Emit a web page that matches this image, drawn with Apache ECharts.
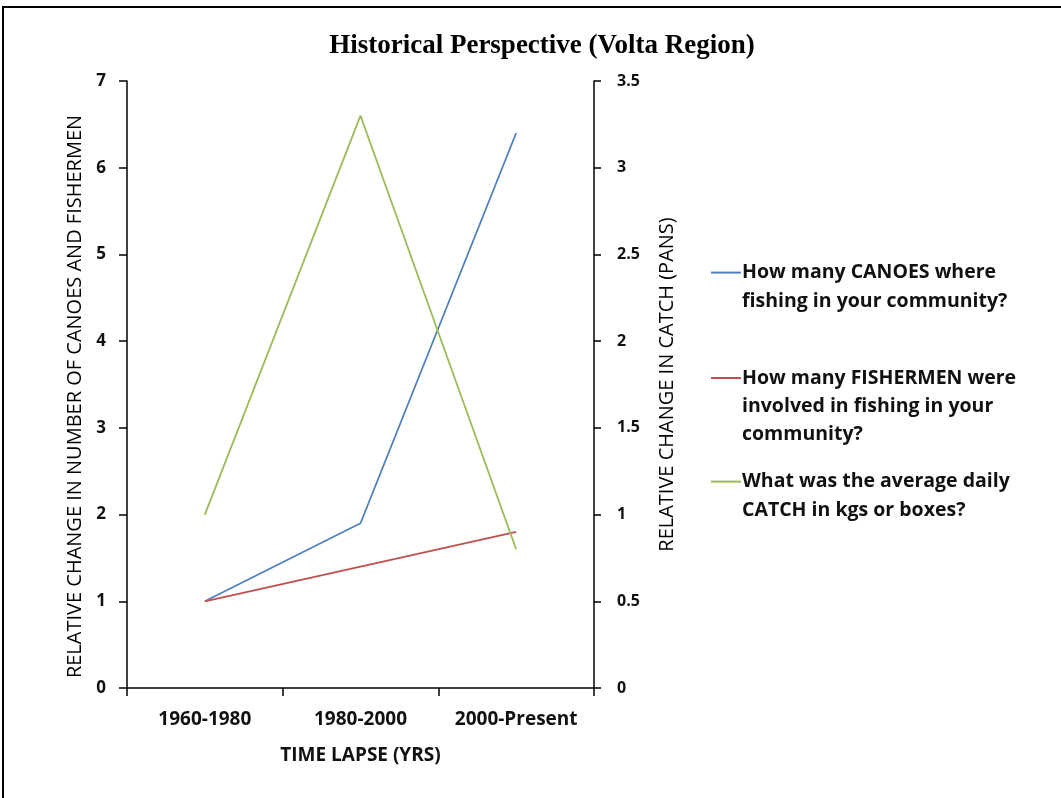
<!DOCTYPE html>
<html>
<head>
<meta charset="utf-8">
<script src="https://cdn.jsdelivr.net/npm/echarts@6/dist/echarts.min.js"></script>
<style>
html, body { margin: 0; padding: 0; background: #fff; }
#chart { width: 1061px; height: 798px; }
</style>
</head>
<body>
<div id="chart"></div>
<script>
// data
var periods = ['1960-1980', '1980-2000', '2000-Present'];
var canoes = [1, 1.9, 6.4];
var fishermen = [1, 1.4, 1.8];
var catchPans = [1, 3.3, 0.8];   // right axis
var leftTicks = [0, 7, 1];        // min, max, step
var rightTicks = [0, 3.5, 0.5];

var names = [
  'How many CANOES where fishing in your community?',
  'How many FISHERMEN were involved in fishing in your community?',
  'What was the average daily CATCH in kgs or boxes?'
];
// wrapped the way the legend shows them; leading blank lines keep the line icon on the first row
var legendText = {};
legendText[names[0]] = '\nHow many CANOES where\nfishing in your community?';
legendText[names[1]] = '\n\nHow many FISHERMEN were\ninvolved in fishing in your\ncommunity?';
legendText[names[2]] = '\nWhat was the average daily\nCATCH in kgs or boxes?';

var font = 'Open Sans';
var myChart = echarts.init(document.getElementById('chart'));

function legendFor(name, top) {
  return {
    data: [name],
    left: 710,
    top: top,
    padding: 0,
    orient: 'vertical',
    itemWidth: 30,
    itemHeight: 10,
    itemGap: 0,
    itemStyle: { opacity: 0 },
    formatter: function (n) { return legendText[n]; },
    textStyle: { fontFamily: font, fontSize: 19.5, fontWeight: 'bold', color: '#111', lineHeight: 28.4, padding: [0, 0, 0, -4] }
  };
}

myChart.setOption({
  animation: false,
  title: {
    text: 'Historical Perspective (Volta Region)',
    left: 537,
    textAlign: 'center',
    top: 28,
    textStyle: { fontFamily: 'Liberation Serif', fontWeight: 'bold', fontSize: 27, color: '#000' }
  },
  legend: [
    legendFor(names[0], 230),
    legendFor(names[1], 307),
    legendFor(names[2], 439)
  ],
  grid: { left: 127, right: 467, top: 81, bottom: 110 },
  xAxis: {
    type: 'category',
    data: periods,
    boundaryGap: true,
    name: 'TIME LAPSE (YRS)',
    nameLocation: 'middle',
    nameGap: 58,
    nameTextStyle: { fontFamily: font, fontSize: 19, fontWeight: 'bold', color: '#111' },
    axisLine: { lineStyle: { color: '#000', width: 1.5 } },
    axisTick: { show: true, length: 8, lineStyle: { color: '#000', width: 1.5 } },
    axisLabel: { interval: 0, margin: 22, fontFamily: font, fontWeight: 'bold', fontSize: 19, color: '#111' }
  },
  yAxis: [
    {
      type: 'value',
      min: leftTicks[0], max: leftTicks[1], interval: leftTicks[2],
      name: 'RELATIVE CHANGE IN NUMBER OF CANOES AND FISHERMEN',
      nameLocation: 'middle',
      nameRotate: 90,
      nameGap: 42,
      nameTextStyle: { fontFamily: font, fontSize: 20, color: '#000', padding: [0, 24, 0, 0] },
      axisLine: { show: true, lineStyle: { color: '#000', width: 1.5 } },
      axisTick: { show: true, length: 8, lineStyle: { color: '#000', width: 1.5 } },
      axisLabel: { margin: 21, fontFamily: font, fontWeight: 'bold', fontSize: 17, color: '#111' },
      splitLine: { show: false }
    },
    {
      type: 'value',
      position: 'right',
      min: rightTicks[0], max: rightTicks[1], interval: rightTicks[2],
      name: 'RELATIVE CHANGE IN CATCH (PANS)',
      nameLocation: 'middle',
      nameRotate: 90,
      nameGap: 63,
      nameTextStyle: { fontFamily: font, fontSize: 20, color: '#000' },
      axisLine: { show: true, lineStyle: { color: '#000', width: 1.5 } },
      axisTick: { show: true, length: 7, lineStyle: { color: '#000', width: 1.5 } },
      axisLabel: { margin: 23, fontFamily: font, fontWeight: 'bold', fontSize: 16, color: '#111' },
      splitLine: { show: false }
    }
  ],
  series: [
    { name: names[0], type: 'line', data: canoes, yAxisIndex: 0, symbol: 'none', color: '#4F81BD', lineStyle: { width: 1.8 } },
    { name: names[1], type: 'line', data: fishermen, yAxisIndex: 0, symbol: 'none', color: '#C0504D', lineStyle: { width: 1.8 } },
    { name: names[2], type: 'line', data: catchPans, yAxisIndex: 1, symbol: 'none', color: '#9BBB59', lineStyle: { width: 1.8 } }
  ],
  graphic: [
    { type: 'rect', shape: { x: 3, y: 7, width: 1070, height: 800 }, style: { fill: 'none', stroke: '#000', lineWidth: 2 }, silent: true }
  ]
});
</script>
</body>
</html>
